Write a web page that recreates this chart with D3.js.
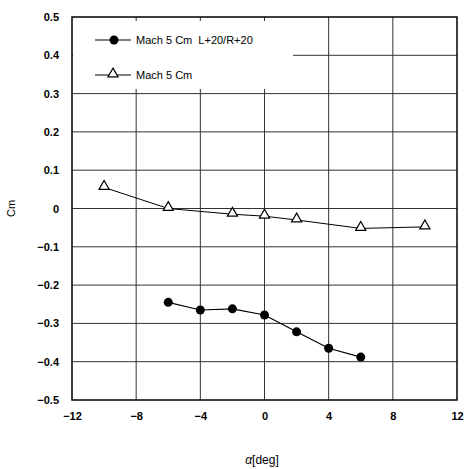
<!DOCTYPE html>
<html>
<head>
<script src="https://d3js.org/d3.v7.min.js"></script>
<style>
  body { margin: 0; background: #fff; }
  text { font-family: "Liberation Sans", Arial, sans-serif; }
</style>
</head>
<body>
<script>

var width = 465
var height = 469

// data
var alphaCircle = [-6, -4, -2, 0, 2, 4, 6]
var cmCircle = [-0.245, -0.265, -0.262, -0.278, -0.322, -0.365, -0.388]
var alphaTri = [-10, -6, -2, 0, 2, 6, 10]
var cmTri = [0.055, 0.0, -0.015, -0.02, -0.03, -0.052, -0.048]
var xTicks = [-12, -8, -4, 0, 4, 8, 12]
var yTicks = [0.5, 0.4, 0.3, 0.2, 0.1, 0, -0.1, -0.2, -0.3, -0.4, -0.5]
var legendNames = ["Mach 5 Cm  L+20/R+20", "Mach 5 Cm"]

var pLeft = 72, pRight = 457, pTop = 17, pBottom = 400

var svg = d3.select('body').append('svg')
	.attr('width', width)
	.attr('height', height)

var x = d3.scaleLinear().domain([-12, 12]).range([pLeft, pRight])
var y = d3.scaleLinear().domain([-0.5, 0.5]).range([pBottom, pTop])

// grid
svg.append("g").selectAll("line")
	.data(yTicks.slice(1, -1))
	.enter().append("line")
	.attr("x1", pLeft).attr("x2", pRight)
	.attr("y1", function(d) { return y(d) }).attr("y2", function(d) { return y(d) })
	.attr("stroke", "#333").attr("stroke-width", 1)

svg.append("g").selectAll("line")
	.data(xTicks.slice(1, -1))
	.enter().append("line")
	.attr("y1", pTop).attr("y2", pBottom)
	.attr("x1", function(d) { return x(d) }).attr("x2", function(d) { return x(d) })
	.attr("stroke", "#333").attr("stroke-width", 1)

// legend box blanks the grid
svg.append("rect")
	.attr("x", pLeft + 1).attr("y", pTop + 4)
	.attr("width", 220).attr("height", 68)
	.attr("fill", "#fff")

// frame
svg.append("rect")
	.attr("x", pLeft).attr("y", pTop)
	.attr("width", pRight - pLeft).attr("height", pBottom - pTop)
	.attr("fill", "none").attr("stroke", "#000").attr("stroke-width", 1.5)

// axes labels
var xAxis = d3.axisBottom(x).tickValues(xTicks).tickSize(0).tickPadding(12)
	.tickFormat(function(d) { return d < 0 ? "\u2212" + Math.abs(d) : d })
svg.append("g").attr("transform", "translate(0," + pBottom + ")").call(xAxis)
	.call(function(g) { g.select(".domain").remove() })
	.selectAll("text").attr("font-size", 11).attr("font-weight", "bold").attr("fill", "#000")

var yAxis = d3.axisLeft(y).tickValues(yTicks).tickSize(0).tickPadding(13)
	.tickFormat(function(d) { return d < 0 ? "\u2212" + Math.abs(d) : d })
svg.append("g").attr("transform", "translate(" + pLeft + ",0)").call(yAxis)
	.call(function(g) { g.select(".domain").remove() })
	.selectAll("text").attr("font-size", 11).attr("font-weight", "bold").attr("fill", "#000")

svg.append("text")
	.attr("transform", "translate(15," + y(0) + ") rotate(-90)")
	.attr("text-anchor", "middle")
	.attr("font-size", 11)
	.text("Cm")

svg.append("text")
	.attr("x", 262).attr("y", 464)
	.attr("text-anchor", "middle")
	.attr("font-size", 12)
	.attr("font-family", "DejaVu Serif, serif")
	.html("<tspan font-style='italic'>\u03b1</tspan>[deg]")

var line = d3.line()
	.x(function(d) { return x(d[0]) })
	.y(function(d) { return y(d[1]) })

var triPts = alphaTri.map(function(a, i) { return [a, cmTri[i]] })
var circPts = alphaCircle.map(function(a, i) { return [a, cmCircle[i]] })

svg.append("path").datum(triPts).attr("d", line)
	.attr("fill", "none").attr("stroke", "#000").attr("stroke-width", 1)
svg.append("path").datum(circPts).attr("d", line)
	.attr("fill", "none").attr("stroke", "#000").attr("stroke-width", 1.2)

var tri = d3.symbol().type(d3.symbolTriangle).size(45)

svg.append("g").selectAll("path")
	.data(triPts)
	.enter().append("path")
	.attr("d", tri)
	.attr("transform", function(d) { return "translate(" + x(d[0]) + "," + (y(d[1]) - 1) + ")" })
	.attr("fill", "#fff").attr("stroke", "#000").attr("stroke-width", 1.2)

svg.append("g").selectAll("circle")
	.data(circPts)
	.enter().append("circle")
	.attr("cx", function(d) { return x(d[0]) })
	.attr("cy", function(d) { return y(d[1]) })
	.attr("r", 4.5)
	.attr("fill", "#000")

// legend
var leg = svg.append("g")
leg.append("line").attr("x1", 95).attr("x2", 131).attr("y1", 40).attr("y2", 40)
	.attr("stroke", "#000").attr("stroke-width", 1.2)
leg.append("circle").attr("cx", 114).attr("cy", 40).attr("r", 4.5).attr("fill", "#000")
leg.append("text").attr("x", 136).attr("y", 44).attr("font-size", 11).attr("xml:space", "preserve").text(legendNames[0])

leg.append("line").attr("x1", 95).attr("x2", 131).attr("y1", 75).attr("y2", 75)
	.attr("stroke", "#000").attr("stroke-width", 1)
leg.append("path").attr("d", tri).attr("transform", "translate(113,74)")
	.attr("fill", "#fff").attr("stroke", "#000").attr("stroke-width", 1.2)
leg.append("text").attr("x", 136).attr("y", 79).attr("font-size", 11).text(legendNames[1])

</script>
</body>
</html>
